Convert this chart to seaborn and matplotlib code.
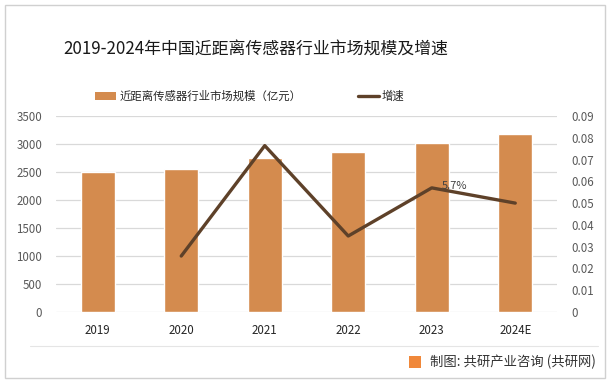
import matplotlib
matplotlib.use("Agg")
import matplotlib.pyplot as plt
import seaborn as sns
import pandas as pd
import numpy as np
from matplotlib.patches import Patch, Rectangle
from matplotlib.lines import Line2D

years = ["2019", "2020", "2021", "2022", "2023", "2024E"]
market = [2500, 2554, 2750, 2857, 3018, 3179]
growth = [np.nan, 0.0257, 0.0764, 0.0349, 0.057, 0.050]
left_ticks = [0, 500, 1000, 1500, 2000, 2500, 3000, 3500]
right_ticks = [0, 0.01, 0.02, 0.03, 0.04, 0.05, 0.06, 0.07, 0.08, 0.09]
title = "2019-2024年中国近距离传感器行业市场规模及增速"
bar_label = "近距离传感器行业市场规模（亿元）"
line_label = "增速"
source = "制图: 共研产业咨询 (共研网)"

sns.set_theme(style="white")
plt.rcParams["font.family"] = ["Noto Sans CJK SC", "DejaVu Sans"]

BAR = "#D48B4E"
LINE = "#5E4129"
TXT = "#595959"

fig = plt.figure(figsize=(6.16, 3.86), dpi=100)
ax = fig.add_axes([56/616, 1-312/386, (557-56)/616, (312-116)/386])

df = pd.DataFrame({"year": years, "market": market, "growth": growth})
sns.barplot(data=df, x="year", y="market", color=BAR, width=0.41, ax=ax, saturation=1)
ax.set_ylim(0, 3500)
ax.set_yticks(left_ticks)
ax.set_yticklabels([str(t) for t in left_ticks])
ax.set_xlabel("")
ax.set_ylabel("")
ax.set_xlim(-0.5, len(years) - 0.5)
ax.grid(axis="y", color="#D9D9D9", linewidth=0.9)
ax.set_axisbelow(True)
for s in ax.spines.values():
    s.set_visible(False)
ax.tick_params(axis="both", length=0, labelsize=8.3, colors=TXT)
ax.tick_params(axis="x", pad=9, colors="#262626")
ax.tick_params(axis="y", pad=10)

ax2 = ax.twinx()
gdf = df.dropna().copy()
gdf["pos"] = [years.index(y) for y in gdf["year"]]
sns.lineplot(data=gdf, x="pos", y="growth", color=LINE, linewidth=2.4, ax=ax2, legend=False)
ax2.set_ylim(0, 0.09)
ax2.set_yticks(right_ticks)
ax2.set_yticklabels(["0" if t == 0 else f"{t:.2f}" for t in right_ticks])
ax2.set_xlim(-0.5, len(years) - 0.5)
ax2.set_xlabel("")
ax2.set_ylabel("")
for s in ax2.spines.values():
    s.set_visible(False)
ax2.tick_params(axis="y", length=0, labelsize=8.3, colors=TXT, pad=10)
ax2.grid(False)

i23 = years.index("2023")
ax2.annotate(f"{growth[i23]*100:.1f}%", (i23, growth[i23]), xytext=(7, 1),
             textcoords="offset points", ha="left", va="center", fontsize=8, color="#404040")

fig.text(256/616, 1-50/386, title, ha="center", va="center", fontsize=12.2, color="#1a1a1a")

handles = [Patch(facecolor=BAR, edgecolor="none"), Line2D([0], [0], color=LINE, linewidth=2.4)]
fig.legend(handles, [bar_label, line_label], loc="center", bbox_to_anchor=(250/616, 1-96/386),
           ncol=2, frameon=False, fontsize=8.2, handlelength=1.8, handleheight=0.7,
           columnspacing=5.0, handletextpad=0.3, labelcolor="#262626")

# frame and separator
fig.add_artist(Rectangle((5/616, 8/386), 600/616, 373/386, transform=fig.transFigure,
                         fill=False, edgecolor="#D0D0D0", linewidth=1))
fig.add_artist(Line2D([30/616, 598/616], [1-346/386, 1-346/386], transform=fig.transFigure,
                      color="#E5E5E5", linewidth=0.8))
fig.add_artist(Rectangle((409/616, 1-368/386), 12/616, 12/386, transform=fig.transFigure,
                         facecolor="#F0883A", edgecolor="none"))
fig.text(430/616, 1-362/386, source, ha="left", va="center", fontsize=9.6, color="#333333")

fig.savefig("out.png", dpi=100)
